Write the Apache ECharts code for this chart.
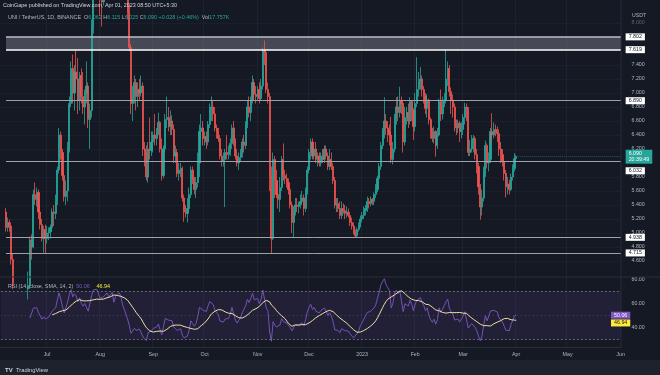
<!DOCTYPE html>
<html><head><meta charset="utf-8">
<script src="https://cdn.jsdelivr.net/npm/echarts@6/dist/echarts.min.js"></script>
<style>html,body{margin:0;padding:0;background:#151924;}#c{width:660px;height:375px;}</style>
</head><body><div id="c"></div>
<script>
// ---- data (UNI/USDT daily) ----
const firstDate = '2022-06-07';
const axisFirst = '2022-06-04';
const axisLast = '2023-06-01';
const firstOpen = 5.30;
// closes: Jun 7..30, Jul, Aug, Sep, Oct, Nov, Dec, Jan, Feb, Mar, Apr 1
const closes = [
 5.08,5.15,5.10,4.62,4.28,3.95,3.62,3.80,4.05,3.72,3.85,3.70,4.20,4.25,4.90,4.80,5.55,5.48,5.58,5.30,5.12,4.92,5.05,4.92,
 5.00,5.02,5.08,5.30,5.28,5.45,5.90,6.40,6.15,5.82,5.52,5.60,6.20,6.85,7.35,7.00,7.30,7.20,6.90,7.25,6.95,6.80,7.00,7.10,6.62,6.75,7.95,8.65,8.90,8.85,8.60,
 8.35,8.30,8.55,8.45,9.00,8.80,8.95,9.25,8.75,9.30,9.35,9.70,9.55,9.10,8.80,8.70,8.15,7.65,6.85,6.95,7.15,6.95,7.05,7.00,7.10,6.20,6.15,5.80,6.20,6.18,6.30,
 6.40,6.35,6.45,6.58,6.20,5.82,6.20,6.62,6.65,6.52,6.60,6.48,6.10,6.15,5.85,5.90,5.92,5.50,5.30,5.28,5.35,5.55,5.90,5.75,5.62,5.72,6.00,6.45,6.50,6.35,
 6.38,6.30,6.55,6.78,6.80,6.70,6.50,6.45,6.35,6.10,6.02,6.05,6.15,6.12,6.15,6.28,6.50,6.32,6.10,6.00,6.08,6.15,6.30,6.25,6.55,6.80,6.72,6.90,7.15,6.98,6.95,
 7.05,6.92,7.10,7.60,7.58,7.05,6.95,5.80,4.92,6.05,5.75,5.55,5.48,5.65,6.05,5.82,5.78,5.72,5.62,5.40,5.15,5.30,5.40,5.38,5.42,5.45,5.50,5.35,5.58,5.90,
 6.15,6.30,6.10,6.20,6.05,6.10,6.00,6.10,6.05,6.20,6.10,5.95,6.05,5.95,5.75,5.40,5.42,5.35,5.25,5.35,5.32,5.28,5.30,5.25,5.15,5.10,5.00,4.96,5.05,5.10,5.20,
 5.25,5.32,5.35,5.45,5.42,5.48,5.45,5.55,5.62,5.78,5.95,6.25,6.45,6.60,6.50,6.45,6.40,6.05,6.20,6.65,6.80,6.72,6.88,6.85,6.30,6.65,6.72,6.60,6.88,6.75,6.52,
 6.85,7.05,7.15,7.20,7.05,6.95,6.78,6.90,6.62,6.45,6.35,6.45,6.25,6.40,6.88,6.70,6.85,6.90,7.20,7.35,7.02,6.90,6.80,6.55,6.50,6.57,6.45,6.48,
 6.65,6.80,6.75,6.15,6.20,6.30,6.35,6.12,5.95,5.66,5.37,5.50,5.86,6.25,6.00,6.05,6.45,6.40,6.48,6.45,6.42,6.20,6.12,6.02,5.85,5.66,5.70,5.62,5.80,5.92,6.062,
 6.090
];
const highs = [
 5.36,5.22,5.19,5.15,4.70,4.35,4.00,3.90,4.15,4.15,3.95,3.92,4.30,4.45,4.95,4.98,5.62,5.72,5.65,5.62,5.40,5.20,5.10,5.12,
 5.10,5.08,5.12,5.35,5.40,5.55,5.95,6.50,6.45,6.20,5.90,5.75,6.30,6.95,7.45,7.55,7.40,7.60,7.50,7.30,7.35,7.30,7.05,7.45,7.15,6.85,8.05,8.80,9.15,9.20,9.00,
 8.70,8.45,8.75,8.70,9.10,9.15,9.05,9.40,9.30,9.40,9.65,9.80,9.95,9.75,9.40,8.95,8.90,8.25,7.70,7.10,7.25,7.20,7.15,7.20,7.25,7.15,6.30,6.25,6.30,6.65,6.45,
 6.45,6.70,6.50,6.72,6.60,6.35,6.25,6.70,6.95,6.80,6.75,6.68,6.55,6.25,6.20,6.00,6.00,5.95,5.55,5.40,5.50,5.65,5.95,5.95,5.80,5.80,6.15,6.55,6.70,6.60,
 6.45,6.45,6.60,6.85,6.95,6.90,6.80,6.55,6.50,6.40,6.20,6.15,6.20,6.40,6.25,6.35,6.55,6.60,6.35,6.20,6.15,6.20,6.35,6.40,6.60,6.90,6.95,6.95,7.25,7.20,7.10,
 7.10,7.15,7.20,7.65,7.75,7.62,7.15,7.00,5.95,6.15,6.10,5.90,5.75,5.80,6.10,6.28,5.90,5.85,5.78,5.65,5.45,5.38,5.50,5.50,5.45,5.55,5.60,5.55,5.65,5.95,
 6.20,6.35,6.35,6.25,6.30,6.15,6.15,6.15,6.20,6.25,6.25,6.15,6.20,6.15,6.00,5.80,5.50,5.50,5.45,5.45,5.42,5.40,5.38,5.35,5.30,5.22,5.15,5.05,5.08,5.15,5.25,
 5.30,5.38,5.40,5.52,5.50,5.52,5.50,5.58,5.70,5.82,6.00,6.30,6.50,6.94,6.70,6.60,6.55,6.66,6.30,6.70,6.94,6.95,7.09,6.95,6.90,6.80,6.80,6.85,6.94,6.90,6.78,
 7.00,7.51,7.30,7.37,7.25,7.10,7.00,6.98,6.92,6.65,6.50,6.52,6.47,6.50,6.92,7.05,6.95,7.00,7.61,7.45,7.40,7.08,6.98,6.85,6.62,6.62,6.60,6.58,
 6.70,6.86,6.85,6.80,6.33,6.40,6.40,6.38,6.20,6.00,5.70,5.62,5.95,6.32,6.28,6.15,6.50,6.71,6.58,6.55,6.52,6.48,6.30,6.20,6.05,5.90,5.80,5.76,5.85,5.98,6.14,
 6.115
];
const lows = [
 5.02,5.02,5.02,4.55,4.20,3.85,3.40,3.45,3.55,3.65,3.68,3.40,3.60,4.05,4.20,4.62,4.78,5.40,5.38,5.20,5.05,4.88,4.72,4.70,
 4.85,4.90,4.92,5.02,5.10,5.20,5.40,5.85,6.05,5.75,5.45,5.40,5.45,6.15,6.80,6.85,6.75,7.05,6.70,6.75,6.85,6.70,6.55,6.85,6.50,6.20,6.65,7.85,8.45,8.75,8.55,
 8.10,7.95,8.25,8.35,8.40,8.75,8.65,8.90,8.60,8.65,9.15,9.20,9.40,9.00,8.60,8.50,8.05,7.60,6.70,6.60,6.85,6.75,6.80,6.90,6.95,6.10,5.95,5.75,5.72,6.05,6.10,
 6.15,6.25,6.25,6.40,6.15,5.75,5.78,6.15,6.50,6.45,6.40,6.40,6.00,6.00,5.80,5.75,5.80,5.45,5.16,5.22,5.15,5.30,5.50,5.70,5.55,5.50,5.65,5.80,6.30,6.25,
 6.25,6.20,6.25,6.50,6.60,6.60,6.45,6.35,6.30,6.05,5.95,5.95,5.37,6.05,6.05,6.10,6.20,6.25,6.05,5.95,5.90,6.02,6.08,6.15,6.20,6.50,6.65,6.60,6.85,6.90,6.85,
 6.90,6.85,6.90,7.05,7.40,7.00,6.85,5.60,4.70,4.90,5.50,5.50,5.35,5.30,5.60,5.75,5.70,5.65,5.55,5.35,5.00,4.94,5.25,5.30,5.28,5.35,5.40,5.25,5.30,5.55,
 5.85,6.05,6.05,6.05,6.00,5.95,5.95,5.95,6.00,6.00,6.05,5.90,5.90,5.90,5.70,5.35,5.30,5.30,5.20,5.20,5.28,5.20,5.22,5.22,5.10,5.05,4.98,4.94,4.94,5.02,5.08,
 5.15,5.20,5.25,5.30,5.35,5.38,5.40,5.40,5.50,5.58,5.75,5.90,6.20,6.35,6.40,6.30,6.25,6.00,5.98,6.15,6.55,6.60,6.65,6.70,6.15,6.25,6.55,6.50,6.55,6.60,6.33,
 6.45,6.80,6.95,7.05,6.95,6.85,6.70,6.65,6.55,6.35,6.30,6.28,6.09,6.20,6.38,6.60,6.62,6.80,6.85,7.10,6.95,6.70,6.65,6.45,6.40,6.43,6.30,6.35,
 6.40,6.55,6.60,6.10,6.10,6.15,6.15,6.05,5.85,5.55,5.19,5.25,5.45,5.80,5.92,5.88,6.00,6.30,6.35,6.38,6.30,6.10,6.00,5.95,5.75,5.51,5.55,5.55,5.60,5.75,5.88,
 6.025
];
const zoneLevels = [7.619, 7.802];
const hLevels = [6.890, 6.032, 4.938, 4.715];
const lastPrice = 6.090;
const lastTime = '20:39:49';
const priceTicks = [4.6,4.8,5.0,5.2,5.4,5.6,5.8,6.2,6.4,6.6,6.8,7.0,7.2,7.4,8.0];
const rsiTicks = [40, 60, 80];
const rsiBand = [30, 50, 70];
const rsiLabels = [50.06, 46.94];
const monthNames = ['2023','Feb','Mar','Apr','May','Jun','Jul','Aug','Sep','Oct','Nov','Dec'];

// ---- build ----
const cats = [];
for (let t = Date.parse(axisFirst + 'T00:00:00Z'); t <= Date.parse(axisLast + 'T00:00:00Z'); t += 86400000) {
  cats.push(new Date(t).toISOString().slice(0, 10));
}
const off = cats.indexOf(firstDate);
const dates = closes.map((_, i) => cats[off + i]);
const opens = closes.map((c, i) => i === 0 ? firstOpen : closes[i - 1]); // daily open = prior close (24/7 market)
const candles = closes.map((c, i) => [dates[i], opens[i], c, lows[i], highs[i]]);

// RSI(14, RMA) and its SMA(14)
const rsi = new Array(closes.length).fill(null);
let ag = 0, al = 0;
for (let i = 1; i <= 14; i++) { const ch = closes[i] - closes[i - 1]; ag += Math.max(ch, 0); al += Math.max(-ch, 0); }
ag /= 14; al /= 14; rsi[14] = 100 - 100 / (1 + ag / al);
for (let i = 15; i < closes.length; i++) {
  const ch = closes[i] - closes[i - 1];
  ag = (ag * 13 + Math.max(ch, 0)) / 14; al = (al * 13 + Math.max(-ch, 0)) / 14;
  rsi[i] = al === 0 ? 100 : 100 - 100 / (1 + ag / al);
}
const rsiMa = rsi.map((v, i) => {
  if (i < 27) return null; let s = 0; for (let k = i - 13; k <= i; k++) s += rsi[k]; return s / 14;
});
const rsiData = rsi.map((v, i) => [dates[i], v == null ? '-' : +v.toFixed(2)]);
const maData = rsiMa.map((v, i) => [dates[i], v == null ? '-' : +v.toFixed(2)]);

const FONT = 'Liberation Sans';
const isMonth = (i, v) => v.slice(8) === '01';
const GRID_W = 621.5;
const lineLbl = (txt, bg, fg, extra) => Object.assign({show: true, position: 'end', formatter: txt, backgroundColor: bg, color: fg,
  fontSize: 5.3, fontFamily: FONT, padding: [1, 3, 1, 3], distance: 5}, extra || {});

const markLines = [];
hLevels.forEach((v) => {
  markLines.push([{coord: [firstDate, v], lineStyle: {color: '#9ea1aa', width: 1, type: 'solid'},
    label: lineLbl(v.toFixed(3), '#ffffff', '#131722', v === 6.032 ? {offset: [0, 10]} : {})}, {coord: [axisLast, v]}]);
});
markLines.push([{coord: [firstDate, zoneLevels[0]], lineStyle: {color: '#ffffff', width: 1.6, type: 'solid'},
  label: lineLbl(zoneLevels[0].toFixed(3), '#ffffff', '#131722')}, {coord: [axisLast, zoneLevels[0]]}]);
markLines.push([{coord: [firstDate, zoneLevels[1]], lineStyle: {color: '#b9bcc4', width: 1.6, type: 'solid'},
  label: lineLbl(zoneLevels[1].toFixed(3), '#ffffff', '#131722')}, {coord: [axisLast, zoneLevels[1]]}]);
markLines.push([{coord: [dates[dates.length - 1], lastPrice], lineStyle: {color: 'rgba(38,166,154,0.45)', width: 1, type: 'dotted'},
  label: lineLbl(lastPrice.toFixed(3) + '\n' + lastTime, '#26a69a', '#ffffff', {lineHeight: 6})}, {coord: [axisLast, lastPrice]}]);

const chart = echarts.init(document.getElementById('c'), null, {renderer: 'canvas'});
chart.setOption({
  backgroundColor: '#151924',
  animation: false,
  textStyle: {fontFamily: FONT},
  grid: [
    {left: 0, top: 0, width: GRID_W, height: 277},
    {left: 0, top: 277, width: GRID_W, height: 70}
  ],
  xAxis: [
    {type: 'category', gridIndex: 0, data: cats, boundaryGap: true,
     axisLine: {show: false}, axisTick: {show: false}, axisLabel: {show: false},
     splitLine: {show: true, interval: isMonth, lineStyle: {color: '#1d2130', width: 1}}},
    {type: 'category', gridIndex: 1, data: cats, boundaryGap: true,
     axisLine: {show: true, lineStyle: {color: '#2a2e39'}}, axisTick: {show: false},
     axisLabel: {interval: isMonth, formatter: (v) => monthNames[+v.slice(5, 7) - 1], color: '#b2b5be', fontSize: 5.3, margin: 5, fontFamily: FONT},
     splitLine: {show: true, interval: isMonth, lineStyle: {color: '#1d2130', width: 1}}}
  ],
  yAxis: [
    {type: 'value', gridIndex: 0, position: 'right', min: 4.3714, max: 8.3286,
     axisLine: {show: false}, axisTick: {show: false, customValues: priceTicks},
     splitLine: {show: true, lineStyle: {color: '#1b1f2c'}},
     axisLabel: {customValues: priceTicks, margin: 10, fontSize: 5.3, fontFamily: FONT,
       formatter: (v) => v >= 7.9 ? '{d|' + v.toFixed(3) + '}' : v.toFixed(3), color: '#b2b5be',
       rich: {d: {color: '#5d606b', fontSize: 5.3}}}},
    {type: 'value', gridIndex: 1, position: 'right', min: 23.57, max: 81.9,
     axisLine: {show: false}, axisTick: {show: false}, splitLine: {show: false},
     axisLabel: {customValues: rsiTicks, margin: 10, fontSize: 5.3, fontFamily: FONT, color: '#b2b5be', formatter: (v) => v.toFixed(2)}}
  ],
  series: [
    {type: 'candlestick', xAxisIndex: 0, yAxisIndex: 0, data: candles, encode: {x: 0, y: [1, 2, 3, 4]},
     barWidth: 1.6,
     itemStyle: {color: '#26a69a', color0: '#ef5350', borderColor: '#26a69a', borderColor0: '#ef5350', borderWidth: 0.8},
     markArea: {silent: true, itemStyle: {color: 'rgba(130,134,146,0.45)'},
       data: [[{coord: [firstDate, zoneLevels[0]]}, {coord: [axisLast, zoneLevels[1]]}]]},
     markLine: {silent: true, symbol: ['none', 'none'], animation: false, data: markLines}},
    {type: 'line', xAxisIndex: 1, yAxisIndex: 1, data: rsiData, showSymbol: false, z: 4,
     lineStyle: {color: '#7e57c2', width: 0.9},
     markArea: {silent: true, itemStyle: {color: 'rgba(126,87,194,0.12)'},
       data: [[{coord: [axisFirst, rsiBand[0]]}, {coord: [axisLast, rsiBand[2]]}]]},
     markLine: {silent: true, symbol: ['none', 'none'], data: [
       [{coord: [axisFirst, rsiBand[2]], lineStyle: {color: '#787b86', type: [2, 2], width: 1, opacity: 0.8}, label: {show: false}}, {coord: [axisLast, rsiBand[2]]}],
       [{coord: [axisFirst, rsiBand[1]], lineStyle: {color: '#787b86', type: [1, 3], width: 1, opacity: 0.4}, label: {show: false}}, {coord: [axisLast, rsiBand[1]]}],
       [{coord: [axisFirst, rsiBand[0]], lineStyle: {color: '#787b86', type: [2, 2], width: 1, opacity: 0.8}, label: {show: false}}, {coord: [axisLast, rsiBand[0]]}],
       [{coord: [axisLast, rsiLabels[0]], lineStyle: {color: 'rgba(0,0,0,0)'}, label: lineLbl(rsiLabels[0].toFixed(2), '#7e57c2', '#ffffff')}, {coord: [axisLast, rsiLabels[0]]}],
       [{coord: [axisLast, rsiLabels[1]], lineStyle: {color: 'rgba(0,0,0,0)'}, label: lineLbl(rsiLabels[1].toFixed(2), '#ffeb3b', '#131722', {offset: [0, 4]})}, {coord: [axisLast, rsiLabels[1]]}]
     ]}},
    {type: 'line', xAxisIndex: 1, yAxisIndex: 1, data: maData, showSymbol: false, z: 5,
     lineStyle: {color: '#f0dfa6', width: 1}}
  ],
  graphic: [
    {type: 'rect', shape: {x: 0, y: 276.5, width: 660, height: 1}, style: {fill: '#2a2e39'}, z: 10},
    {type: 'rect', shape: {x: 0, y: 360, width: 660, height: 15}, style: {fill: '#1e222d'}, z: 10},
    {type: 'text', left: 3, top: 3, z: 20, style: {text: 'CoinGape published on TradingView.com, Apr 01, 2023 08:50 UTC+5:30', fill: '#d1d4dc', font: '5.4px "Liberation Sans"'}},
    {type: 'text', left: 8, top: 15, z: 20, style: {
      text: '{w|UNI / TetherUS, 1D, BINANCE  }{w|O}{g|6.062 }{w|H}{g|6.115 }{w|L}{g|6.025 }{w|C}{g|6.090 }{g|+0.028 (+0.46%)  }{w|Vol}{g|17.757K}',
      rich: {w: {fill: '#b2b5be', font: '5.4px "Liberation Sans"'}, g: {fill: '#26a69a', font: '5.4px "Liberation Sans"'}}}},
    {type: 'text', left: 632, top: 13, z: 20, style: {text: 'USDT', fill: '#b2b5be', font: '5.2px "Liberation Sans"'}},
    {type: 'text', left: 8, top: 281, z: 20, style: {
      text: '{w|RSI (14, close, SMA, 14, 2)  }{p|50.06}  {y|46.94}',
      rich: {w: {fill: '#b2b5be', font: '5.4px "Liberation Sans"'}, p: {fill: '#7e57c2', font: '5.4px "Liberation Sans"'}, y: {fill: '#ffeb3b', font: '5.4px "Liberation Sans"'}}}},
    {type: 'text', left: 5, top: 364, z: 20, style: {text: '{b|TV} {n|TradingView}',
      rich: {b: {fill: '#d1d4dc', font: 'bold 6px "Liberation Sans"'}, n: {fill: '#d1d4dc', font: '5.8px "Liberation Sans"'}}}}
  ]
});
</script></body></html>
